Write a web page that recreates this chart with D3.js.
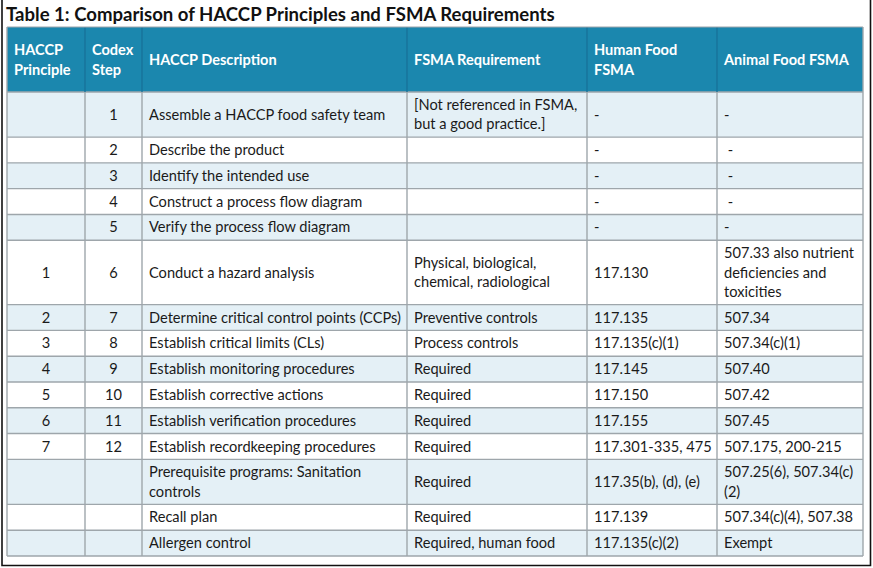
<!DOCTYPE html>
<html><head><meta charset="utf-8">
<script src="https://cdn.jsdelivr.net/npm/d3@7"></script>
<style>body{margin:0;background:#fff}svg{display:block}</style>
</head><body><svg id="c" width="873" height="568"></svg>
<script>
const title = "Table 1: Comparison of HACCP Principles and FSMA Requirements";
const headers = ["HACCP\nPrinciple","Codex\nStep","HACCP Description","FSMA Requirement","Human Food\nFSMA","Animal Food FSMA"];
const principles = ["","","","","","1","2","3","4","5","6","7","","",""];
const codexSteps = ["1","2","3","4","5","6","7","8","9","10","11","12","","",""];
const descriptions = ["Assemble a HACCP food safety team","Describe the product","Identify the intended use","Construct a process flow diagram","Verify the process flow diagram","Conduct a hazard analysis","Determine critical control points (CCPs)","Establish critical limits (CLs)","Establish monitoring procedures","Establish corrective actions","Establish verification procedures","Establish recordkeeping procedures","Prerequisite programs: Sanitation\ncontrols","Recall plan","Allergen control"];
const fsmaReq = ["[Not referenced in FSMA,\nbut a good practice.]","","","","","Physical, biological,\nchemical, radiological","Preventive controls","Process controls","Required","Required","Required","Required","Required","Required","Required, human food"];
const humanFood = ["-","-","-","-","-","117.130","117.135","117.135(c)(1)","117.145","117.150","117.155","117.301-335, 475","117.35(b), (d), (e)","117.139","117.135(c)(2)"];
const animalFood = ["-","\u00a0-","\u00a0-","\u00a0-","-","507.33 also nutrient\ndeficiencies and\ntoxicities","507.34","507.34(c)(1)","507.40","507.42","507.45","507.175, 200-215","507.25(6), 507.34(c)\n(2)","507.34(c)(4), 507.38","Exempt"];

const svg = d3.select("#c");
const FONT = "Lato, 'Noto Sans', sans-serif";
const HEAD = "#1b87ae", ALT = "#e4f0f6", GRID = "#9ea6ab";

// fit font sizes to the reference's measured text widths
function fit(text, weight, target){
  const t = svg.append("text").attr("font-family",FONT).attr("font-weight",weight).attr("font-size",100).text(text);
  const w = t.node().getComputedTextLength(); t.remove();
  return 100*target/w;
}
const bodySize = fit("Determine critical control points (CCPs)", 400, 252);
const headSize = fit("Animal Food FSMA", 700, 125);
const titleSize = fit(title, 700, 549);

const cols = [principles, codexSteps, descriptions, fsmaReq, humanFood, animalFood];
const colEdges = [7,85,142,407,587,717,863];
const align = ["middle","middle","start","start","start","start"];
const nRows = descriptions.length;
const lines = d3.range(nRows).map(i => d3.max(cols, c => c[i].split("\n").length));
const unit = r => 6.5 + lines[r]*19.3;
const cum = [0]; lines.forEach((l,i)=>cum.push(cum[i]+unit(i)));
const y = d3.scaleLinear().domain([0, cum[nRows]]).range([92, 556]);
const headTop = 27;

// title
svg.append("text").attr("x",6).attr("y",21).attr("font-family",FONT).attr("font-weight",700)
  .attr("font-size",titleSize).attr("fill","#111").text(title);

// header
svg.append("rect").attr("x",colEdges[0]).attr("y",headTop).attr("width",colEdges[6]-colEdges[0]).attr("height",y(0)-headTop).attr("fill",HEAD);

// body rows
const rowG = svg.append("g");
d3.range(nRows).forEach(r=>{
  rowG.append("rect").attr("x",colEdges[0]).attr("y",y(cum[r])).attr("width",colEdges[6]-colEdges[0])
    .attr("height",y(cum[r+1])-y(cum[r])).attr("fill", r%2===0?ALT:"#fff");
});

// grid
const g = svg.append("g").attr("stroke",GRID).attr("stroke-width",1.4);
d3.range(nRows+1).forEach(r=>{
  g.append("line").attr("x1",colEdges[0]).attr("x2",colEdges[6]).attr("y1",y(cum[r])).attr("y2",y(cum[r]));
});
colEdges.forEach((x,i)=>{
  g.append("line").attr("x1",x).attr("x2",x).attr("y1",y(0)).attr("y2",y(cum[nRows]));
  svg.append("line").attr("x1",x).attr("x2",x).attr("y1",headTop).attr("y2",y(0))
    .attr("stroke", (i===0||i===6)?GRID:"#17739a").attr("stroke-width",1.4);
});
svg.append("line").attr("x1",colEdges[0]).attr("x2",colEdges[6]).attr("y1",headTop).attr("y2",headTop).attr("stroke",GRID).attr("stroke-width",1.2);

function cellText(txt, c, top, bottom, size, weight, color){
  const ls = txt.split("\n");
  const lh = 19.5;
  const cy = (top+bottom)/2;
  const x = align[c]==="middle" ? (colEdges[c]+colEdges[c+1])/2 : colEdges[c]+7;
  const t = svg.append("text").attr("font-family",FONT).attr("font-size",size).attr("font-weight",weight)
    .attr("fill",color).attr("text-anchor",align[c]).attr("xml:space","preserve");
  ls.forEach((l,k)=>{
    t.append("tspan").attr("x",x).attr("y", cy + (k-(ls.length-1)/2)*lh).attr("dy","0.35em").text(l);
  });
}
headers.forEach((h,c)=>{
  const ls = h.split("\n");
  const t = svg.append("text").attr("font-family",FONT).attr("font-size",headSize).attr("font-weight",700).attr("fill","#fff");
  const cy = (headTop+y(0))/2;
  ls.forEach((l,k)=>t.append("tspan").attr("x",colEdges[c]+7).attr("y",cy+(k-(ls.length-1)/2)*20).attr("dy","0.35em").text(l));
});
d3.range(nRows).forEach(r=>{
  cols.forEach((col,c)=>{
    if(col[r]) cellText(col[r], c, y(cum[r]), y(cum[r+1]), bodySize, 400, "#1a1a1a");
  });
});

// outer frame
const frame = svg.append("g").attr("stroke","#111").attr("stroke-width",1.6).attr("fill","none");
frame.append("path").attr("d","M2,0 V565.5 H870.5 V0");
</script></body></html>
